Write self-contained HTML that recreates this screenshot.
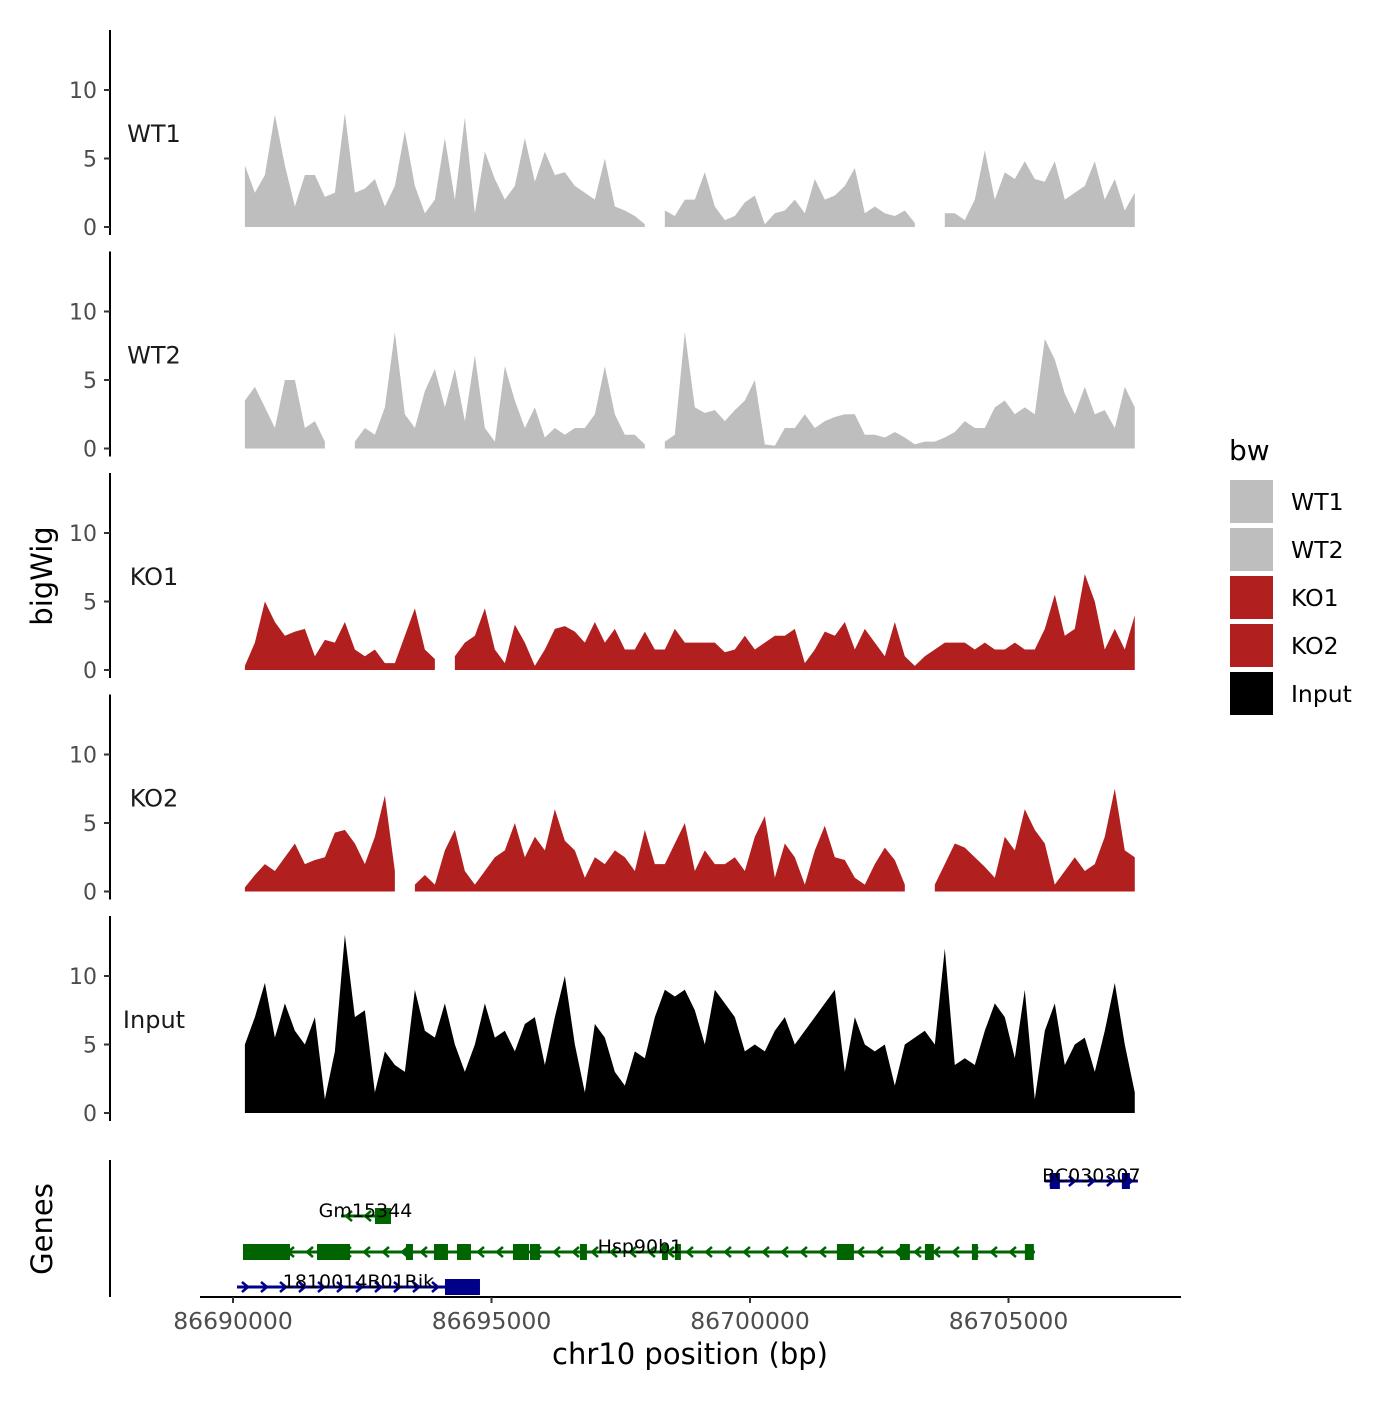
<!DOCTYPE html>
<html><head><meta charset="utf-8"><style>
body{margin:0;background:#fff}
svg text{font-family:"DejaVu Sans","Liberation Sans",sans-serif}
</style></head><body>
<svg id="c" width="1400" height="1400" viewBox="0 0 1400 1400"></svg>
<script>
const trackNames=["WT1","WT2","KO1","KO2","Input"];
const trackColors=["#bebebe","#bebebe","#b21f1f","#b21f1f","#000000"];
const startBp=86690230, stepBp=193.4;
const yTicks=[0,5,10];
const xTicks=[86690000,86695000,86700000,86705000];
const wt1=[4.5,2.5,3.8,8.2,4.5,1.5,3.8,3.8,2.2,2.5,8.3,2.5,2.8,3.5,1.5,3,7,3,1,2,6.5,2,8,1,5.5,3.5,2,3,6.5,3.3,5.5,3.8,4,3,2.5,2,5,1.5,1.2,0.8,0.2,null,1.2,0.8,2,2,4,1.5,0.5,0.8,1.8,2.3,0.2,1,1.2,2,1,3.5,2,2.3,3,4.3,1,1.5,1,0.8,1.2,0.3,null,null,1,1,0.5,2,5.6,2,4,3.5,4.8,3.5,3.3,4.8,2,2.5,3,4.8,2,3.5,1.2,2.5];
const wt2=[3.5,4.5,3,1.5,5,5,1.5,2,0.5,null,null,0.5,1.5,1,3,8.5,2.5,1.5,4.2,5.8,3,5.8,2,6.8,1.5,0.5,6,3.5,1.5,3,0.8,1.5,1,1.5,1.5,2.5,6,2.5,1,1,0.3,null,0.5,1,8.5,3,2.6,2.8,2,2.8,3.5,5,0.3,0.2,1.5,1.5,2.5,1.5,2,2.3,2.5,2.5,1,1,0.8,1.2,0.8,0.3,0.5,0.5,0.8,1.2,2,1.5,1.5,3,3.5,2.5,3,2.5,8,6.5,4,2.5,4.5,2.5,2.8,1.5,4.5,3];
const ko1=[0.3,2,5,3.5,2.5,2.8,3,1,2.2,2,3.5,1.5,1,1.5,0.5,0.5,2.5,4.5,1.5,0.8,null,1,2,2.5,4.5,1.5,0.5,3.3,2,0.3,1.5,3,3.2,2.8,2,3.5,2,3,1.5,1.5,2.8,1.5,1.5,3,2,2,2,2,1.3,1.5,2.5,1.5,2,2.5,2.5,3,0.5,1.5,2.8,2.5,3.5,1.5,3,2,1,3.5,1,0.3,1,1.5,2,2,2,1.5,2,1.5,1.5,2,1.5,1.5,3,5.5,2.5,3,7,5,1.5,3,1.5,4];
const ko2=[0.3,1.2,2,1.5,2.5,3.5,2,2.3,2.5,4.3,4.5,3.5,2,4,7,1.5,null,0.5,1.2,0.5,3,4.5,1.5,0.5,1.5,2.5,3,5,2.5,4,3,6,3.7,3,1,2.5,2,3,2.5,1.5,4.5,2,2,3.5,5,1.5,3,2,2,2.5,1.5,4,5.5,1,3.5,2.5,0.5,3,4.8,2.5,2.3,1,0.5,2,3.2,2.3,0.5,null,null,0.5,2,3.5,3.2,2.5,1.8,1,4,3,6,4.5,3.5,0.5,1.5,2.5,1.5,2,4,7.5,3,2.5];
const inputSig=[5,7,9.5,5.5,8,6,5,7,1,4.5,13,7,7.5,1.5,4.5,3.5,3,9,6,5.5,8,5,3,5,8,5.5,6,4.5,6.5,7,3.5,7,10,5,1.5,6.5,5.5,3,2,4.5,4,7,9,8.5,9,7.5,5,9,8,7,4.5,5,4.5,6,7,5,6,7,8,9,3,7,5,4.5,5,2,5,5.5,6,5,12,3.5,4,3.5,6,8,7,4,9,1,6,8,3.5,5,5.5,3,6,9.5,5,1.5];
const series=[wt1,wt2,ko1,ko2,inputSig];
const geneNames=["1810014B01Rik","Hsp90b1","Gm15344","BC030307"];
const geneStarts=[86690077,86690232,86692089,86705704];
const geneEnds=[86694777,86705511,86693036,86707503];
const geneStrand=["+","-","-","+"];
const geneRows=[0,1,2,3];
const geneExons=[
 [[86694100,86694777]],
 [[86690193,86691102],[86691625,86692263],[86693346,86693481],[86693887,86694158],[86694332,86694603],[86695415,86695725],[86695744,86695937],[86696711,86696846],[86698297,86698413],[86698548,86698664],[86701681,86702010],[86702900,86703093],[86703383,86703557],[86704292,86704408],[86705317,86705491]],
 [[86692746,86693056]],
 [[86705800,86705994],[86707193,86707348]]
];
const NS="http://www.w3.org/2000/svg";
const svg=document.getElementById('c');
function mk(tag,attrs,parent){const e=document.createElementNS(NS,tag);for(const k in attrs)e.setAttribute(k,attrs[k]);(parent||svg).appendChild(e);return e;}
const xS=bp=>233+(bp-86690000)*0.0517;
const panelTop=k=>30+221.5*k;
const yS=(k,v)=>227+221.5*k-v*13.7;
series.forEach((vals,k)=>{
  const g=mk('g',{});
  
  
  let seg=[];const segs=[];
  vals.forEach((v,i)=>{if(v===null){if(seg.length)segs.push(seg);seg=[];}else seg.push([xS(startBp+i*stepBp),yS(k,v)]);});
  if(seg.length)segs.push(seg);
  segs.forEach(s=>{
    const base=yS(k,0);
    let d='M'+s[0][0]+','+base+s.map(p=>'L'+p[0]+','+p[1]).join('')+'L'+s[s.length-1][0]+','+base+'Z';
    const p=mk('path',{d:d,fill:trackColors[k]},g);
    
    
  });
  const ax=mk('line',{x1:110,x2:110,y1:panelTop(k),y2:panelTop(k)+205,stroke:'#000','stroke-width':2});
  
  
  yTicks.forEach(t=>{
    const y=yS(k,t);
    mk('line',{x1:104,x2:110,y1:y,y2:y,stroke:'#333','stroke-width':2});
    const tx=mk('text',{x:97,y:y+8,'text-anchor':'end','font-size':22,fill:'#4d4d4d'});
    tx.textContent=t;
    
    
  });
  const lb=mk('text',{x:154,y:yS(k,6.2),'text-anchor':'middle','font-size':24,fill:'#1a1a1a'});
  lb.textContent=trackNames[k];
  
  
});
// genes
const gAx=mk('line',{x1:110,x2:110,y1:1160,y2:1297,stroke:'#000','stroke-width':2});


const rowY=[1287,1252,1216,1181];
const gColors=["#00008b","#006400","#006400","#00008b"];
geneNames.forEach((nm,i)=>{
  const g=mk('g',{});
  
  
  const y=rowY[geneRows[i]],c=gColors[i];
  const x1=xS(geneStarts[i]),x2=xS(geneEnds[i]);
  mk('line',{x1:x1,x2:x2,y1:y,y2:y,stroke:c,'stroke-width':3},g);
  for(let x=x1+8;x<x2-4;x+=19){
    const d=geneStrand[i]==='+'?`M${x-3},${y-5}L${x+3},${y}L${x-3},${y+5}`:`M${x+3},${y-5}L${x-3},${y}L${x+3},${y+5}`;
    mk('path',{d:d,fill:'none',stroke:c,'stroke-width':2.5},g);
  }
  geneExons[i].forEach(e=>{
    const a=xS(e[0]),b=xS(e[1]);
    const r=mk('rect',{x:a,y:y-8,width:Math.max(b-a,4),height:16,fill:c},g);
    
    
  });
  const t=mk('text',{x:(x1+x2)/2,y:y+1,'text-anchor':'middle','font-size':19,fill:'#000'},g);
  t.textContent=nm;
  
  
});
// x axis
const xa=mk('line',{x1:200,x2:1181,y1:1297,y2:1297,stroke:'#000','stroke-width':2});


xTicks.forEach(t=>{
  const x=xS(t);
  mk('line',{x1:x,x2:x,y1:1297,y2:1303,stroke:'#333','stroke-width':2});
  const tx=mk('text',{x:x,y:1329,'text-anchor':'middle','font-size':23.5,fill:'#4d4d4d'});
  tx.textContent=t;
  
  
});
const xt=mk('text',{x:690,y:1364,'text-anchor':'middle','font-size':29});
xt.textContent='chr10 position (bp)';


const yt=mk('text',{x:0,y:0,'text-anchor':'middle','font-size':29,transform:'translate(52,576) rotate(-90)'});
yt.textContent='bigWig';


const gt=mk('text',{x:0,y:0,'text-anchor':'middle','font-size':29,transform:'translate(52,1229) rotate(-90)'});
gt.textContent='Genes';


// legend
const lt=mk('text',{x:1229,y:460,'font-size':28});
lt.textContent='bw';


trackNames.forEach((nm,k)=>{
  const g=mk('g',{});
  
  
  mk('rect',{x:1230,y:480+48*k,width:43,height:43,fill:trackColors[k]},g);
  const t=mk('text',{x:1291,y:510+48*k,'font-size':23.5},g);
  t.textContent=nm;
});
</script>
</body></html>
